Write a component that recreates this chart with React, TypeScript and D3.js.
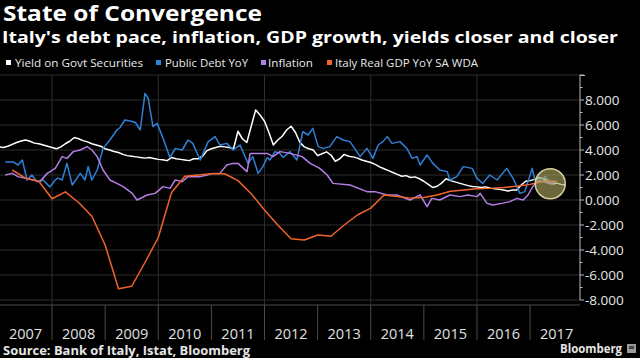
import React from 'react';
import * as d3 from 'd3';

// ---- Data ----
const yearLabels = ['2007', '2008', '2009', '2010', '2011', '2012', '2013', '2014', '2015', '2016', '2017'];
const yTickValues = [-8, -6, -4, -2, 0, 2, 4, 6, 8];

// Yield on Govt Securities: monthly from Jan 2007
const yieldStart = 2007.0;
const yieldValues = [
  4.25, 4.2, 4.3, 4.45, 4.6, 4.72, 4.8, 4.7, 4.55, 4.5, 4.4, 4.3,
  4.2, 4.1, 4.25, 4.5, 4.7, 5.0, 4.9, 4.75, 4.65, 4.5, 4.4, 4.3,
  4.1, 4.0, 3.88, 3.8, 3.65, 3.55, 3.5, 3.45, 3.4, 3.35, 3.4, 3.32,
  3.25, 3.22, 3.15, 3.4, 3.3, 3.25, 3.2, 3.15, 3.3, 3.3, 3.5, 3.95,
  4.1, 4.2, 4.3, 4.25, 4.2, 4.1, 5.5, 4.9, 4.6, 5.9, 7.2, 6.8,
  6.3, 5.4, 4.4, 4.8, 5.1, 5.6, 5.9, 5.4, 4.6, 4.25, 4.1, 4.0,
  3.55, 3.7, 3.85, 3.6, 3.1, 3.3, 3.65, 3.5, 3.45, 3.35, 3.2, 3.1,
  3.0, 2.85, 2.65, 2.5, 2.35, 2.2, 2.05, 1.9, 1.95, 1.8, 1.85, 1.7,
  1.5, 1.25, 1.0, 1.1, 1.35, 1.7, 1.55, 1.45, 1.35, 1.25, 1.15, 1.08,
  1.05, 1.0, 1.05, 0.95, 0.9, 0.85, 0.8, 0.72, 0.8, 0.8, 1.2, 1.5,
  1.55, 1.65, 1.8, 1.7, 1.5, 1.35, 1.35, 1.25, 1.2,
];

// Public Debt YoY
const debtYears = [
  2007.12, 2007.27, 2007.36, 2007.44, 2007.53, 2007.62, 2007.72, 2007.83, 2007.96, 2008.06,
  2008.11, 2008.19, 2008.28, 2008.38, 2008.53, 2008.62, 2008.68, 2008.75, 2008.85, 2008.96,
  2009.09, 2009.22, 2009.28, 2009.37, 2009.49, 2009.57, 2009.66, 2009.75, 2009.81, 2009.9,
  2009.98, 2010.09, 2010.22, 2010.32, 2010.45, 2010.56, 2010.65, 2010.79, 2010.94, 2011.07,
  2011.16, 2011.29, 2011.41, 2011.54, 2011.69, 2011.78, 2011.88, 2011.97, 2012.05, 2012.1,
  2012.2, 2012.29, 2012.35, 2012.48, 2012.61, 2012.72, 2012.82, 2012.91, 2013.01, 2013.1,
  2013.23, 2013.36, 2013.48, 2013.61, 2013.8, 2013.93, 2014.04, 2014.14, 2014.23, 2014.31,
  2014.4, 2014.55, 2014.68, 2014.78, 2014.87, 2014.93, 2015.06, 2015.17, 2015.3, 2015.44,
  2015.49, 2015.62, 2015.74, 2015.91, 2016.0, 2016.11, 2016.24, 2016.38, 2016.56, 2016.68,
  2016.81, 2016.9, 2017.04, 2017.09, 2017.19, 2017.28, 2017.37, 2017.43,
];
const debtValues = [
  3.05, 3.05, 2.8, 3.2, 1.6, 2.0, 1.45, 1.6, 1.05, 1.6,
  1.75, 1.6, 2.93, 1.2, 2.13, 1.6, 2.67, 1.6, 2.4, 4.13,
  4.8, 5.6, 5.8, 6.4, 6.3, 6.2, 5.6, 8.53, 8.13, 5.87,
  6.13, 4.93, 3.4, 4.13, 4.0, 4.8, 4.53, 3.2, 4.67, 5.07,
  4.4, 4.53, 4.0, 4.4, 2.93, 3.47, 2.13, 2.67, 3.4, 3.2,
  3.87, 3.73, 3.4, 3.87, 3.2, 5.47, 5.2, 5.73, 4.27, 4.13,
  4.27, 5.07, 4.8, 4.67, 3.47, 4.13, 3.33, 4.4, 4.67, 5.07,
  4.53, 4.67, 4.13, 3.33, 3.47, 2.8, 3.6, 2.93, 2.4, 2.27,
  1.6, 1.87, 2.67, 2.53, 1.73, 1.33, 2.0, 1.6, 2.53, 1.73,
  0.53, 0.67, 2.53, 1.6, 1.6, 1.87, 1.47, 1.4,
];

// Inflation
const inflationYears = [
  2007.12, 2007.25, 2007.36, 2007.64, 2007.77, 2007.91, 2008.06, 2008.19, 2008.28, 2008.4,
  2008.53, 2008.66, 2008.75, 2008.85, 2008.96, 2009.09, 2009.22, 2009.34, 2009.51, 2009.6,
  2009.79, 2009.94, 2010.09, 2010.22, 2010.32, 2010.45, 2010.56, 2010.79, 2010.92, 2011.03,
  2011.16, 2011.29, 2011.41, 2011.5, 2011.67, 2011.73, 2012.05, 2012.16, 2012.29, 2012.48,
  2012.71, 2012.86, 2013.04, 2013.18, 2013.29, 2013.61, 2013.93, 2014.08, 2014.31, 2014.49,
  2014.74, 2014.93, 2015.06, 2015.15, 2015.3, 2015.49, 2015.68, 2015.83, 2016.0, 2016.06,
  2016.19, 2016.3, 2016.47, 2016.62, 2016.75, 2016.87, 2016.96, 2017.05, 2017.13, 2017.24,
  2017.37, 2017.47,
];
const inflationValues = [
  2.0, 2.13, 1.87, 1.6, 1.47, 2.13, 2.53, 3.47, 3.33, 3.87,
  4.0, 4.27, 4.0, 3.47, 2.4, 1.6, 1.33, 1.07, 0.53, 0.0,
  0.4, 0.53, 1.07, 0.93, 1.6, 1.47, 1.87, 1.87, 2.0, 2.13,
  2.13, 2.8, 2.93, 2.93, 2.27, 3.73, 3.73, 3.47, 3.87, 3.73,
  3.47, 2.93, 2.53, 2.0, 1.33, 1.2, 0.67, 0.67, 0.4, 0.4,
  0.0, 0.4, -0.53, 0.13, 0.0, 0.4, 0.27, 0.4, 0.27, 0.53,
  -0.27, -0.4, -0.27, -0.13, 0.13, 0.0, 0.4, 1.07, 1.47, 1.5,
  1.3, 1.25,
];

// Italy Real GDP YoY SA WDA (quarterly)
const gdpYears = [
  2007.25, 2007.5, 2007.75, 2008.0, 2008.25, 2008.5, 2008.75, 2009.0, 2009.25, 2009.5,
  2009.75, 2010.0, 2010.25, 2010.5, 2010.75, 2011.0, 2011.25, 2011.5, 2011.75, 2012.0,
  2012.25, 2012.5, 2012.75, 2013.0, 2013.25, 2013.5, 2013.75, 2014.0, 2014.25, 2014.5,
  2014.75, 2015.0, 2015.25, 2015.5, 2015.75, 2016.0, 2016.25, 2016.5, 2016.75, 2017.0,
  2017.25, 2017.5,
];
const gdpValues = [
  2.4, 1.75, 1.5, 0.1, 0.65, -0.2, -1.3, -3.6, -7.1, -6.9,
  -5.0, -3.0, 0.6, 1.9, 2.0, 2.1, 2.1, 1.55, 0.5, -0.8,
  -2.0, -3.1, -3.2, -2.8, -2.9, -2.0, -1.2, -0.65, 0.4, 0.28,
  0.15, 0.2, 0.4, 0.7, 0.8, 0.9, 0.93, 1.0, 1.1, 1.25,
  1.5, 1.5,
];

const legendItems = [
  { label: 'Yield on Govt Securities', color: '#ffffff' },
  { label: 'Public Debt YoY', color: '#2f80d6' },
  { label: 'Inflation', color: '#b47ee6' },
  { label: 'Italy Real GDP YoY SA WDA', color: '#f0642a' },
];

// ---- Layout ----
const W = 640;
const H = 358;
const plotLeft = 0;
const plotRight = 580;
const plotTop = 75;
const plotBottom = 305;
const FONT = "'Open Sans', 'DejaVu Sans', sans-serif";

type Pt = [number, number];

export default function App() {
  const x = d3.scaleLinear().domain([2007.02, 2017.94]).range([plotLeft, plotRight]);
  const y = d3.scaleLinear().domain([-8.4, 10]).range([plotBottom, plotTop]);
  const line = d3.line<Pt>().x((d) => x(d[0])).y((d) => y(d[1]));

  const yieldPts: Pt[] = yieldValues.map((v, i) => [yieldStart + i / 12, v]);
  const debtPts: Pt[] = d3.zip(debtYears, debtValues) as Pt[];
  const inflPts: Pt[] = d3.zip(inflationYears, inflationValues) as Pt[];
  const gdpPts: Pt[] = d3.zip(gdpYears, gdpValues) as Pt[];

  const gridY = d3.range(-8, 11, 2);
  const gridX = [2008, 2010, 2012, 2014, 2016];
  const yearBounds = d3.range(2008, 2018);
  const minorTicks = d3.range(-8, 11, 1);

  const legendPos = [
    { sq: 6, tx: 15, len: 128 },
    { sq: 156, tx: 165, len: 83 },
    { sq: 261, tx: 268, len: 45 },
    { sq: 327, tx: 335, len: 143 },
  ];

  const series = [
    { pts: yieldPts, color: legendItems[0].color },
    { pts: debtPts, color: legendItems[1].color },
    { pts: inflPts, color: legendItems[2].color },
    { pts: gdpPts, color: legendItems[3].color },
  ];

  return (
    <svg
      width={W}
      height={H}
      style={{ position: 'absolute', left: 0, top: 0, background: '#000', display: 'block' }}
      fontFamily={FONT}
    >
      <rect x={0} y={0} width={W} height={H} fill="#000" />
      <defs>
        <clipPath id="plotClip">
          <rect x={plotLeft} y={plotTop} width={plotRight - plotLeft} height={plotBottom - plotTop} />
        </clipPath>
      </defs>

      {/* Titles */}
      <text x={3} y={21} fill="#fff" fontSize={21} fontWeight="bold" textLength={259} lengthAdjust="spacingAndGlyphs">
        State of Convergence
      </text>
      <text x={2} y={43} fill="#fff" fontSize={15.5} fontWeight="bold" textLength={616} lengthAdjust="spacingAndGlyphs">
        Italy's debt pace, inflation, GDP growth, yields closer and closer
      </text>

      {/* Legend */}
      {legendItems.map((it, i) => (
        <g key={it.label}>
          <rect x={legendPos[i].sq} y={60} width={5} height={5} fill={it.color} />
          <text
            x={legendPos[i].tx}
            y={67}
            fill="#e8e8e8"
            fontSize={11.5}
            textLength={legendPos[i].len}
            lengthAdjust="spacingAndGlyphs"
          >
            {it.label}
          </text>
        </g>
      ))}

      {/* Grid */}
      {gridY.map((v) => (
        <line key={'gy' + v} x1={plotLeft} x2={plotRight} y1={y(v)} y2={y(v)} stroke="#2e2e2e" strokeWidth={1} />
      ))}
      {gridX.map((v) => (
        <line key={'gx' + v} x1={x(v)} x2={x(v)} y1={plotTop} y2={plotBottom} stroke="#2e2e2e" strokeWidth={1} />
      ))}

      {/* X axis */}
      <line x1={plotLeft} x2={plotRight} y1={plotBottom} y2={plotBottom} stroke="#4a4a4a" strokeWidth={1} />
      {yearBounds.map((v) => (
        <line key={'xt' + v} x1={x(v)} x2={x(v)} y1={plotBottom} y2={340} stroke="#4a4a4a" strokeWidth={1} />
      ))}
      {yearLabels.map((lab) => (
        <text
          key={'yl' + lab}
          x={x(+lab + 0.5)}
          y={339}
          fill="#e0e0e0"
          fontSize={14.5}
          textAnchor="middle"
        >
          {lab}
        </text>
      ))}

      {/* Series */}
      <g clipPath="url(#plotClip)">
        {series.map((s, i) => (
          <path key={'s' + i} d={line(s.pts) || ''} fill="none" stroke={s.color} strokeWidth={1.5} strokeLinejoin="round" />
        ))}
      </g>

      {/* Highlight circle */}
      <circle cx={x(2017.38)} cy={y(1.3)} r={15} fill="#b0a860" fillOpacity={0.62} stroke="#d6cf9c" strokeWidth={1.5} />

      {/* Right axis */}
      <line x1={plotRight} x2={plotRight} y1={plotTop} y2={y(-8)} stroke="#bdbdbd" strokeWidth={1} />
      <line x1={plotRight} x2={plotRight + 5} y1={plotTop + 0.5} y2={plotTop + 0.5} stroke="#bdbdbd" strokeWidth={1} />
      {minorTicks.map((v) => (
        <line
          key={'mt' + v}
          x1={plotRight}
          x2={plotRight + (v % 2 === 0 ? 4 : 2.5)}
          y1={y(v)}
          y2={y(v)}
          stroke="#bdbdbd"
          strokeWidth={1}
        />
      ))}
      {yTickValues.map((v) => (
        <text key={'yt' + v} x={585} y={y(v)} dy="0.36em" fill="#e6e6e6" fontSize={13.5}>
          {v.toFixed(3)}
        </text>
      ))}

      {/* Footer */}
      <text x={3} y={355} fill="#e6e6e6" fontSize={12} fontWeight="bold" textLength={247} lengthAdjust="spacingAndGlyphs">
        Source: Bank of Italy, Istat, Bloomberg
      </text>
      <text x={560} y={353} fill="#e6e6e6" fontSize={12} fontWeight="bold" textLength={62} lengthAdjust="spacingAndGlyphs">
        Bloomberg
      </text>
      <rect x={627} y={344} width={9} height={9} fill="#9a9a9a" />
      <rect x={629} y={346} width={5} height={3} fill="#444" />
    </svg>
  );
}
